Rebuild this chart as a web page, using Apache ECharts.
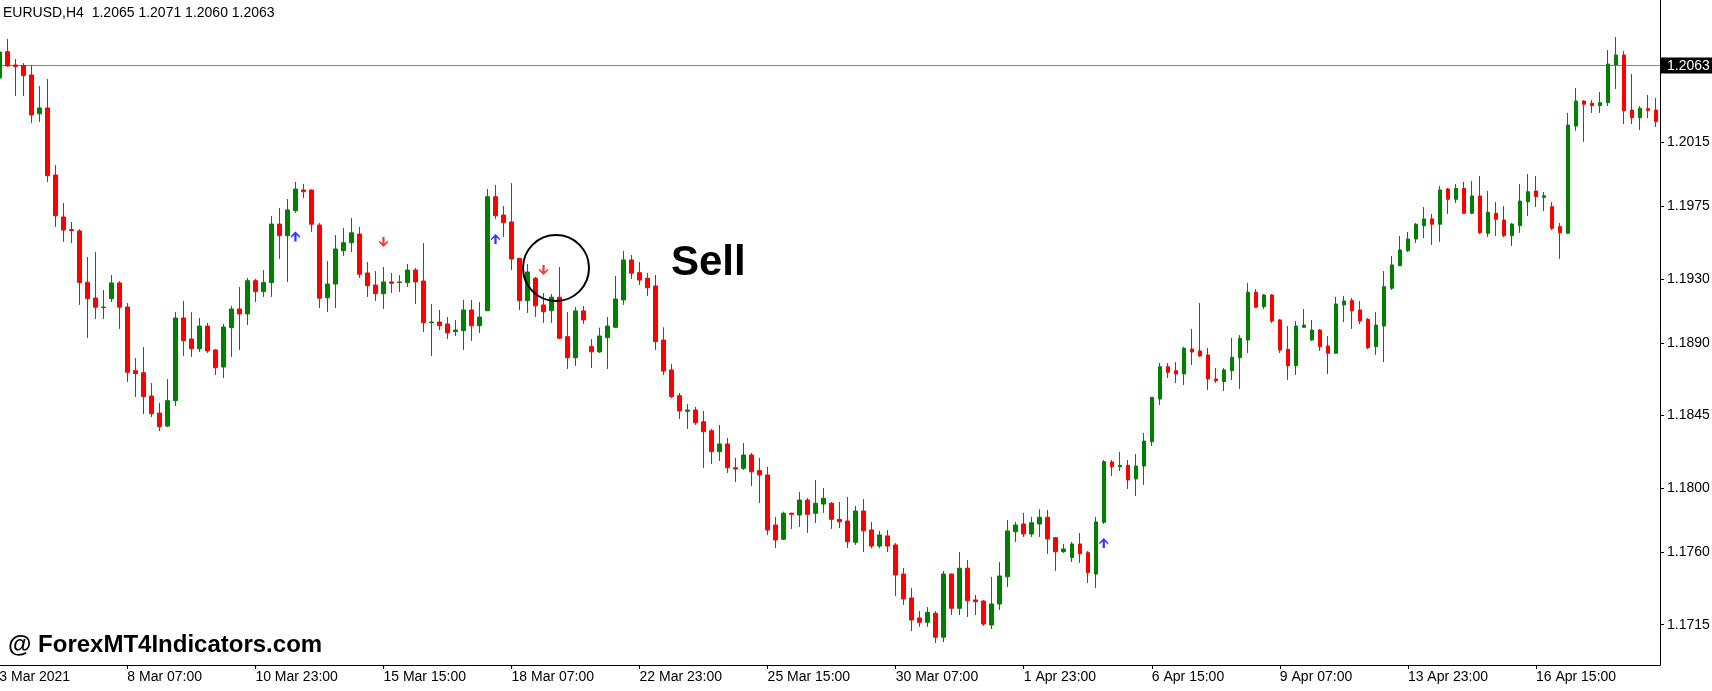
<!DOCTYPE html>
<html>
<head>
<meta charset="utf-8">
<script src="https://cdn.jsdelivr.net/npm/echarts/dist/echarts.min.js"></script>
<style>
html,body{margin:0;padding:0;background:#ffffff;}
#chart{width:1712px;height:691px;}
</style>
</head>
<body>
<div id="chart"></div>
<script>
// ---- data (EURUSD H4) ----
const symbolName = 'EURUSD,H4';
const headerOHLC = ['1.2065', '1.2071', '1.2060', '1.2063'];
const lastPrice = 1.2063;

const open = [
1.20549,1.20713,1.20630,1.20627,1.20568,1.20327,1.20363,1.19946,1.19685,1.19607,
1.19598,1.19279,1.19181,1.19121,1.19177,1.19275,1.19125,1.18729,1.18717,1.18572,
1.18466,1.18385,1.18543,1.19057,1.18926,1.18866,1.19007,1.18858,1.18752,1.18997,
1.19113,1.19082,1.19289,1.19221,1.19277,1.19641,1.19569,1.19724,1.19853,1.19853,
1.19635,1.19183,1.19268,1.19475,1.19525,1.19579,1.19337,1.19262,1.19208,1.19281,
1.19277,1.19277,1.19355,1.19287,1.19028,1.19032,1.19020,1.18972,1.18978,1.19107,
1.19009,1.19102,1.19811,1.19697,1.19654,1.19428,1.19165,1.19304,1.19138,1.19102,
1.19186,1.18941,1.18810,1.19101,1.18879,1.18846,1.18935,1.18999,1.19169,1.19418,
1.19339,1.19304,1.19256,1.18920,1.18734,1.18574,1.18477,1.18485,1.18412,1.18356,
1.18226,1.18274,1.18126,1.18122,1.18205,1.18108,1.18081,1.17770,1.17681,1.17843,
1.17832,1.17925,1.17843,1.17900,1.17905,1.17805,1.17795,1.17662,1.17857,1.17739,
1.17639,1.17702,1.17646,1.17465,1.17316,1.17192,1.17165,1.17221,1.17072,1.17465,
1.17252,1.17501,1.17304,1.17297,1.17148,1.17279,1.17448,1.17728,1.17776,1.17714,
1.17776,1.17818,1.17691,1.17604,1.17567,1.17652,1.17598,1.17465,1.17787,1.18162,
1.18132,1.18141,1.18056,1.18137,1.18288,1.18553,1.18754,1.18729,1.18709,1.18864,
1.18852,1.18827,1.18678,1.18661,1.18729,1.18810,1.18920,1.19217,1.19127,1.19200,
1.19045,1.18862,1.18760,1.18999,1.18920,1.18982,1.18883,1.18838,1.19138,1.19165,
1.19107,1.19049,1.18879,1.19007,1.19242,1.19382,1.19475,1.19548,1.19631,1.19673,
1.19640,1.19859,1.19795,1.19863,1.19708,1.19816,1.19584,1.19708,1.19666,1.19569,
1.19631,1.19780,1.19847,1.19807,1.19749,1.19625,1.19584,1.20251,1.20406,1.20392,
1.20377,1.20396,1.20630,1.20692,1.20350,1.20302,1.20358,1.20350
];
const close = [
1.20711,1.20624,1.20621,1.20564,1.20319,1.20363,1.19942,1.19693,1.19604,1.19601,
1.19277,1.19177,1.19124,1.19125,1.19275,1.19124,1.18719,1.18711,1.18568,1.18462,
1.18381,1.18543,1.19057,1.18916,1.18866,1.19007,1.18852,1.18748,1.19001,1.19113,
1.19082,1.19289,1.19221,1.19277,1.19641,1.19569,1.19729,1.19859,1.19842,1.19640,
1.19180,1.19268,1.19486,1.19525,1.19587,1.19329,1.19258,1.19208,1.19281,1.19273,
1.19281,1.19355,1.19281,1.19028,1.19032,1.19009,1.18964,1.18982,1.19107,1.19009,
1.19063,1.19811,1.19693,1.19650,1.19424,1.19165,1.19343,1.19133,1.19096,1.19186,
1.18931,1.18810,1.19101,1.19045,1.18847,1.18945,1.19007,1.19175,1.19418,1.19335,
1.19293,1.19245,1.18910,1.18727,1.18568,1.18479,1.18485,1.18406,1.18350,1.18226,
1.18274,1.18126,1.18118,1.18205,1.18101,1.18081,1.17739,1.17677,1.17843,1.17836,
1.17925,1.17836,1.17905,1.17936,1.17805,1.17790,1.17666,1.17857,1.17734,1.17639,
1.17708,1.17639,1.17459,1.17310,1.17179,1.17165,1.17227,1.17072,1.17465,1.17252,
1.17501,1.17299,1.17293,1.17154,1.17279,1.17453,1.17733,1.17770,1.17714,1.17784,
1.17818,1.17683,1.17604,1.17621,1.17652,1.17591,1.17473,1.17789,1.18164,1.18132,
1.18141,1.18050,1.18137,1.18292,1.18564,1.18754,1.18719,1.18709,1.18869,1.18846,
1.18821,1.18678,1.18667,1.18734,1.18813,1.18931,1.19217,1.19124,1.19200,1.19038,
1.18858,1.18760,1.19007,1.19013,1.18982,1.18879,1.18838,1.19144,1.19163,1.19102,
1.19038,1.18872,1.19013,1.19252,1.19387,1.19480,1.19548,1.19640,1.19673,1.19640,
1.19853,1.19795,1.19863,1.19708,1.19816,1.19587,1.19714,1.19671,1.19569,1.19641,
1.19784,1.19842,1.19811,1.19817,1.19615,1.19587,1.20257,1.20406,1.20386,1.20377,
1.20396,1.20636,1.20692,1.20346,1.20302,1.20361,1.20348,1.20278
];
const low = [
1.20537,1.20619,1.20437,1.20437,1.20269,1.20276,1.19903,1.19623,1.19530,1.19523,
1.19138,1.18933,1.19051,1.19051,1.19156,1.18989,1.18659,1.18566,1.18460,1.18441,
1.18354,1.18379,1.18510,1.18821,1.18815,1.18846,1.18839,1.18703,1.18684,1.18815,
1.18858,1.19013,1.19156,1.19188,1.19188,1.19424,1.19281,1.19710,1.19803,1.19592,
1.19119,1.19094,1.19119,1.19443,1.19467,1.19306,1.19188,1.19163,1.19113,1.19212,
1.19219,1.19250,1.19144,1.18970,1.18821,1.18982,1.18926,1.18945,1.18858,1.18914,
1.18964,1.19100,1.19673,1.19561,1.19355,1.19107,1.19088,1.19063,1.19026,1.19026,
1.18926,1.18740,1.18759,1.19020,1.18746,1.18839,1.18740,1.18995,1.19138,1.19300,
1.19262,1.19194,1.18858,1.18703,1.18560,1.18429,1.18367,1.18392,1.18124,1.18149,
1.18168,1.18093,1.18037,1.18112,1.18012,1.17907,1.17708,1.17627,1.17677,1.17745,
1.17758,1.17720,1.17782,1.17845,1.17745,1.17751,1.17627,1.17646,1.17602,1.17625,
1.17625,1.17602,1.17328,1.17273,1.17111,1.17136,1.17136,1.17036,1.17042,1.17210,
1.17210,1.17198,1.17210,1.17142,1.17123,1.17241,1.17384,1.17664,1.17695,1.17695,
1.17695,1.17590,1.17484,1.17596,1.17540,1.17534,1.17409,1.17378,1.17776,1.18075,
1.18106,1.17994,1.17950,1.18019,1.18261,1.18516,1.18684,1.18653,1.18640,1.18765,
1.18815,1.18609,1.18653,1.18603,1.18672,1.18616,1.18839,1.19119,1.19113,1.19026,
1.18839,1.18672,1.18703,1.18995,1.18914,1.18852,1.18709,1.18836,1.19032,1.18989,
1.19020,1.18864,1.18827,1.18783,1.19231,1.19380,1.19467,1.19523,1.19554,1.19511,
1.19530,1.19704,1.19772,1.19704,1.19702,1.19579,1.19561,1.19567,1.19560,1.19505,
1.19586,1.19691,1.19747,1.19722,1.19604,1.19424,1.19578,1.20220,1.20151,1.20332,
1.20332,1.20375,1.20481,1.20263,1.20263,1.20226,1.20300,1.20245
];
const high = [
1.20754,1.20792,1.20667,1.20642,1.20630,1.20499,1.20543,1.20008,1.19772,1.19654,
1.19610,1.19436,1.19467,1.19231,1.19324,1.19287,1.19150,1.18808,1.18877,1.18653,
1.18529,1.18678,1.19094,1.19163,1.19094,1.19057,1.19026,1.18864,1.19020,1.19132,
1.19250,1.19306,1.19300,1.19355,1.19691,1.19741,1.19797,1.19903,1.19890,1.19857,
1.19648,1.19411,1.19573,1.19617,1.19679,1.19623,1.19405,1.19349,1.19374,1.19337,
1.19324,1.19393,1.19368,1.19523,1.19144,1.19107,1.19063,1.19045,1.19169,1.19169,
1.19156,1.19859,1.19884,1.19753,1.19896,1.19430,1.19393,1.19312,1.19212,1.19206,
1.19374,1.19094,1.19125,1.19132,1.18926,1.18997,1.19063,1.19318,1.19474,1.19449,
1.19405,1.19337,1.19324,1.18999,1.18771,1.18591,1.18522,1.18504,1.18479,1.18367,
1.18392,1.18311,1.18187,1.18280,1.18218,1.18187,1.18131,1.17820,1.17853,1.17846,
1.17975,1.17938,1.18050,1.18000,1.17913,1.17913,1.17944,1.17888,1.17932,1.17789,
1.17733,1.17739,1.17658,1.17503,1.17378,1.17235,1.17260,1.17235,1.17484,1.17468,
1.17602,1.17552,1.17335,1.17304,1.17447,1.17540,1.17801,1.17789,1.17845,1.17820,
1.17869,1.17863,1.17695,1.17652,1.17664,1.17720,1.17608,1.17820,1.18174,1.18174,
1.18224,1.18174,1.18211,1.18342,1.18566,1.18777,1.18777,1.18783,1.18877,1.18989,
1.19150,1.18870,1.18746,1.18746,1.18933,1.18951,1.19275,1.19237,1.19206,1.19206,
1.19051,1.19007,1.19038,1.19113,1.19045,1.18989,1.18945,1.19188,1.19194,1.19181,
1.19163,1.19057,1.19094,1.19349,1.19443,1.19567,1.19592,1.19648,1.19747,1.19704,
1.19878,1.19865,1.19890,1.19903,1.19909,1.19940,1.19847,1.19778,1.19753,1.19648,
1.19890,1.19952,1.19940,1.19840,1.19778,1.19648,1.20332,1.20487,1.20412,1.20412,
1.20462,1.20723,1.20804,1.20717,1.20574,1.20375,1.20444,1.20425
];

// time-axis labels and the bars they sit on
const tickBars = [0,16,32,48,64,80,96,112,128,144,160,176,192];
const tickLabels = ['3 Mar 2021','8 Mar 07:00','10 Mar 23:00','15 Mar 15:00','18 Mar 07:00',
  '22 Mar 23:00','25 Mar 15:00','30 Mar 07:00','1 Apr 23:00','6 Apr 15:00',
  '9 Apr 07:00','13 Apr 23:00','16 Apr 15:00'];

// price-axis labels
const priceTicks = [1.2015,1.1975,1.1930,1.1890,1.1845,1.1800,1.1760,1.1715];
const priceMin = 1.168994;
const priceMax = 1.210342;

// indicator arrows
const buyBars = [37, 62, 138];
const buyPrices = [1.19564, 1.19548, 1.17658];
const sellBars = [48, 68];
const sellPrices = [1.19530, 1.19355];

// ---- chart ----
const FONT = '"Liberation Sans", Arial, sans-serif';
const W = 1712, GRID_RIGHT = 52;
const categories = open.map((_, i) => String(i));
const candles = open.map((o, i) => [o, close[i], low[i], high[i]]);
const arrowPath = 'path://M4,0 L8,4.2 L8,5.8 L5,3.2 L5,9 L3,9 L3,3.2 L0,5.8 L0,4.2 Z';
const isTick = (i) => tickBars.indexOf(i) !== -1;

const chart = echarts.init(document.getElementById('chart'), null, {renderer: 'canvas'});
chart.setOption({
  animation: false,
  backgroundColor: '#ffffff',
  grid: {left: -4.7, right: GRID_RIGHT, top: 0, bottom: 26, outerBoundsMode: 'none', containLabel: false},
  xAxis: {
    type: 'category',
    data: categories,
    boundaryGap: true,
    axisLine: {show: true, lineStyle: {color: '#000', width: 1}},
    axisTick: {show: true, alignWithLabel: true, interval: (i) => isTick(i), length: 4, lineStyle: {color: '#000'}},
    axisLabel: {
      show: true, interval: (i) => isTick(i),
      formatter: (v, i) => tickLabels[tickBars.indexOf(i)] || '',
      align: 'left', margin: 5, color: '#000', fontSize: 14, fontFamily: FONT
    },
    splitLine: {show: false}
  },
  yAxis: {
    type: 'value',
    position: 'right',
    min: priceMin, max: priceMax,
    scale: true,
    splitLine: {show: false},
    axisLine: {show: true, lineStyle: {color: '#000', width: 1}},
    axisTick: {show: true, length: 4, customValues: priceTicks, lineStyle: {color: '#000'}},
    axisLabel: {show: true, customValues: priceTicks, formatter: (v) => v.toFixed(4),
      color: '#000', fontSize: 14, fontFamily: FONT, margin: 7}
  },
  series: [
    {
      type: 'candlestick',
      data: candles,
      barWidth: 4,
      itemStyle: {color: '#008000', color0: '#ff0000', borderColor: '#008000', borderColor0: '#ff0000', borderWidth: 1},
      emphasis: {disabled: true},
      z: 3
    },
    {
      type: 'scatter',
      data: buyBars.map((b, i) => [b, buyPrices[i]]),
      symbol: arrowPath,
      symbolSize: [9, 10],
      itemStyle: {color: '#0000ff'},
      emphasis: {disabled: true},
      z: 5
    },
    {
      type: 'scatter',
      data: sellBars.map((b, i) => [b, sellPrices[i]]),
      symbol: arrowPath,
      symbolSize: [9, 10],
      symbolRotate: 180,
      itemStyle: {color: '#ff0000'},
      emphasis: {disabled: true},
      z: 5
    }
  ],
  graphic: [
    {id: 'hdr', type: 'text', left: 3, top: 6, z: 10,
      style: {text: symbolName + '  ' + headerOHLC.join(' '), font: '14px ' + FONT, fill: '#000'}},
    {id: 'wm', type: 'text', left: 8, top: 633, z: 10,
      style: {text: '@ ForexMT4Indicators.com', font: 'bold 24px ' + FONT, fill: '#000'}},
    {id: 'sell', type: 'text', left: 671, top: 242, z: 10,
      style: {text: 'Sell', font: 'bold 42px ' + FONT, fill: '#000'}},
    {id: 'ring', type: 'circle', z: 10, shape: {cx: 556, cy: 268, r: 33},
      style: {fill: 'none', stroke: '#000', lineWidth: 2}}
  ]
});

// current-price (bid) line and tag, placed through the y-axis scale
const yPx = Math.round(chart.convertToPixel({yAxisIndex: 0}, lastPrice)) + 0.5;
const axisX = W - GRID_RIGHT;
chart.setOption({
  graphic: [
    {id: 'bidLine', type: 'line', z: 1, silent: true,
      shape: {x1: 0, y1: yPx, x2: axisX, y2: yPx},
      style: {stroke: '#778899', lineWidth: 1}},
    {id: 'bidBox', type: 'rect', z: 20, silent: true,
      shape: {x: axisX + 1, y: yPx - 8, width: W - axisX - 1, height: 16},
      style: {fill: '#000'}},
    {id: 'bidText', type: 'text', z: 21, silent: true,
      style: {x: axisX + 7, y: yPx + 0.5, text: lastPrice.toFixed(4), textVerticalAlign: 'middle',
        font: '14px ' + FONT, fill: '#fff'}}
  ]
});
</script>
</body>
</html>
